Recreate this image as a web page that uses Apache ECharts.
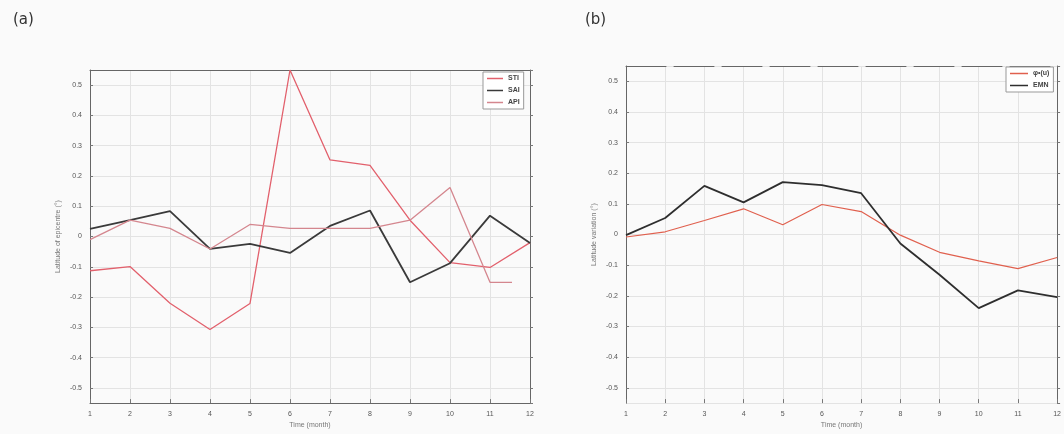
<!DOCTYPE html>
<html>
<head>
<meta charset="utf-8">
<script src="https://cdn.jsdelivr.net/npm/echarts@6/dist/echarts.min.js"></script>
<style>
  html, body { margin: 0; padding: 0; background: #fafafa; }
  #chart { width: 1064px; height: 434px; }
</style>
</head>
<body>
<div id="chart"></div>
<script>
// Month index shared by both panels
const months = [1, 2, 3, 4, 5, 6, 7, 8, 9, 10, 11, 12];
const yTicks = ['0.5', '0.4', '0.3', '0.2', '0.1', '0', '-0.1', '-0.2', '-0.3', '-0.4', '-0.5'];

// Panel (a)
const stiA = [-0.113, -0.099, -0.22, -0.307, -0.221, 0.55, 0.253, 0.235, 0.054, -0.086, -0.102, -0.02];
const saiA = [0.025, 0.054, 0.084, -0.041, -0.024, -0.054, 0.035, 0.086, -0.151, -0.088, 0.069, -0.021];
const apiA = [-0.01, 0.054, 0.027, -0.041, 0.04, 0.027, 0.027, 0.027, 0.054, 0.162, -0.151];
const apiTail = [[11.55, -0.151]];

// Panel (b)
const phiB = [-0.008, 0.009, 0.046, 0.084, 0.032, 0.098, 0.075, -0.002, -0.058, -0.086, -0.111, -0.075];
const emnB = [-0.002, 0.054, 0.159, 0.105, 0.171, 0.161, 0.135, -0.029, -0.131, -0.24, -0.182, -0.204];

const pairs = (xs, ys) => ys.map((v, i) => [xs[i], v]);

const gridLine = { show: true, lineStyle: { color: '#e3e3e3', width: 1 } };
const labelFont = { fontFamily: 'Liberation Sans', fontSize: 7, color: '#555' };

function xAxisFor(gridIndex, showLine) {
  return [{
    type: 'value', gridIndex, min: 1, max: 12, interval: 1,
    axisLine: { show: showLine, onZero: false, lineStyle: { color: '#666', width: 1 } },
    axisTick: { show: true, inside: true, length: 4, lineStyle: { color: '#777' } },
    axisLabel: Object.assign({ margin: 7 }, labelFont),
    splitLine: gridLine,
    name: 'Time (month)', nameLocation: 'middle', nameGap: 18,
    nameTextStyle: { fontFamily: 'Liberation Sans', fontSize: 7, color: '#777' }
  }, {
    type: 'value', gridIndex, position: 'top', min: 1, max: 12, interval: 1,
    axisLine: { show: true, onZero: false, lineStyle: { color: '#666', width: 1, type: gridIndex === 1 ? [40, 8] : 'solid' } },
    axisTick: { show: false }, axisLabel: { show: false }, splitLine: { show: false }
  }];
}

function yAxisFor(gridIndex, name) {
  return [{
    type: 'value', gridIndex, min: -0.55, max: 0.55, splitNumber: 11,
    axisLine: { show: true, onZero: false, lineStyle: { color: '#666', width: 1 } },
    axisTick: { show: true, inside: true, length: 3, lineStyle: { color: '#777' } },
    axisLabel: Object.assign({
      margin: 8, showMinLabel: false, showMaxLabel: false,
      formatter: v => yTicks.includes(String(+v.toFixed(2))) ? String(+v.toFixed(2)) : ''
    }, labelFont),
    splitLine: gridLine,
    name, nameLocation: 'middle', nameGap: 28, nameRotate: 90,
    nameTextStyle: { fontFamily: 'Liberation Sans', fontSize: 7, color: '#777' }
  }, {
    type: 'value', gridIndex, position: 'right', min: -0.55, max: 0.55, splitNumber: 11,
    axisLine: { show: true, onZero: false, lineStyle: { color: '#666', width: 1 } },
    axisTick: { show: true, length: 3, lineStyle: { color: '#777' } },
    axisLabel: { show: false }, splitLine: { show: false }
  }];
}

const line = (name, data, color, width, xi, yi) => ({
  name, type: 'line', data, xAxisIndex: xi, yAxisIndex: yi,
  symbol: 'none', lineStyle: { color, width }, itemStyle: { color },
  emphasis: { disabled: true }, animation: false
});

const legendStyle = {
  orient: 'vertical', icon: 'rect', itemHeight: 1.5, itemGap: 5,
  padding: [3, 4, 3, 4],
  backgroundColor: '#fff', borderColor: '#999', borderWidth: 1,
  textStyle: { fontFamily: 'Liberation Sans', fontSize: 7, fontWeight: 'bold', color: '#444' }
};

const chart = echarts.init(document.getElementById('chart'), null, { renderer: 'canvas' });
chart.setOption({
  backgroundColor: '#fafafa',
  animation: false,
  title: [
    { text: '(a)', left: 8, top: 8, textStyle: { fontFamily: 'DejaVu Sans', fontSize: 15, fontWeight: 'normal', color: '#333' } },
    { text: '(b)', left: 580, top: 8, textStyle: { fontFamily: 'DejaVu Sans', fontSize: 15, fontWeight: 'normal', color: '#333' } }
  ],
  grid: [
    { left: 90, top: 70, width: 440, height: 340 },
    { left: 626, top: 66, width: 440, height: 341 }
  ],
  xAxis: [...xAxisFor(0, true), ...xAxisFor(1, false)],
  yAxis: [...yAxisFor(0, 'Latitude of epicentre (°)'), ...yAxisFor(1, 'Latitude variation (°)')],
  legend: [
    Object.assign({ data: ['STI', 'SAI', 'API'], left: 483, top: 72, itemWidth: 16 }, legendStyle),
    Object.assign({ data: ['φ•(u)', 'EMN'], left: 1006, top: 67, itemWidth: 18 }, legendStyle)
  ],
  series: [
    line('STI', pairs(months, stiA), '#e2606c', 1.3, 0, 0),
    line('SAI', pairs(months, saiA), '#3a3a3a', 1.8, 0, 0),
    line('API', pairs(months, apiA).concat(apiTail), '#d4868e', 1.3, 0, 0),
    line('φ•(u)', pairs(months, phiB), '#e0604e', 1.2, 2, 2),
    line('EMN', pairs(months, emnB), '#2e2e2e', 1.8, 2, 2)
  ]
});
</script>
</body>
</html>
